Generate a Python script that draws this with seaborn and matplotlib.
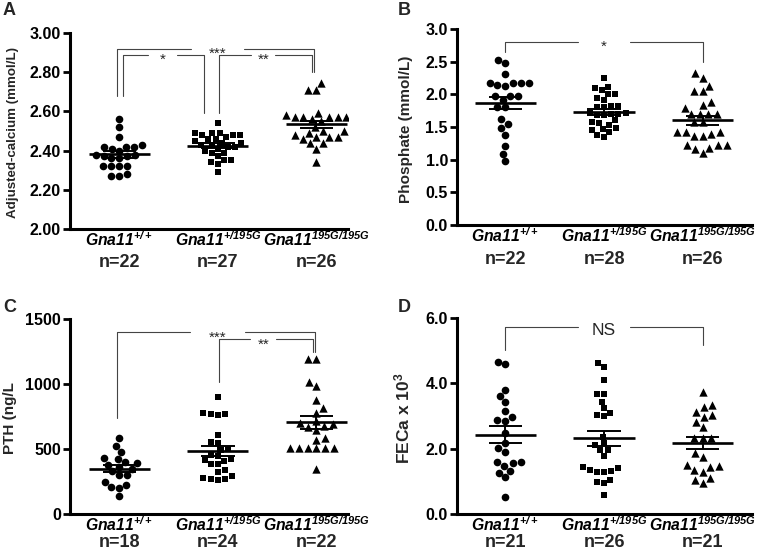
import numpy as np
import pandas as pd
import matplotlib
matplotlib.use("Agg")
import matplotlib.pyplot as plt
import seaborn as sns

# ---------------- data ----------------
groups = ["Gna11+/+", "Gna11+/195G", "Gna11195G/195G"]
group_labels = [r"$\mathsf{Gna11}^{\mathsf{+/+}}$",
                r"$\mathsf{Gna11}^{\mathsf{+/195G}}$",
                r"$\mathsf{Gna11}^{\mathsf{195G/195G}}$"]
markers = ["o", "s", "^"]

calcium_wt = [2.56, 2.52, 2.47, 2.43, 2.42, 2.42, 2.42, 2.41, 2.40, 2.38, 2.38,
              2.37, 2.37, 2.36, 2.36, 2.32, 2.32, 2.32, 2.32, 2.28, 2.27, 2.27]
calcium_het = [2.54, 2.49, 2.49, 2.49, 2.48, 2.48, 2.48, 2.47, 2.46, 2.46, 2.45,
               2.44, 2.44, 2.43, 2.43, 2.42, 2.42, 2.41, 2.40, 2.39, 2.39, 2.37,
               2.35, 2.35, 2.34, 2.33, 2.29]
calcium_hom = [2.745, 2.71, 2.71, 2.59, 2.58, 2.58, 2.57, 2.57, 2.57, 2.57, 2.57,
               2.56, 2.55, 2.52, 2.50, 2.50, 2.49, 2.48, 2.47, 2.47, 2.47, 2.46,
               2.44, 2.44, 2.41, 2.34]

phosphate_wt = [2.53, 2.48, 2.31, 2.17, 2.17, 2.13, 2.15, 2.17, 2.17, 1.97, 1.97,
                1.92, 1.97, 1.81, 1.81, 1.62, 1.55, 1.48, 1.38, 1.21, 1.09, 0.98]
phosphate_het = [2.25, 2.11, 2.09, 2.06, 2.00, 2.00, 1.95, 1.91, 1.82, 1.82, 1.81,
                 1.80, 1.72, 1.71, 1.70, 1.70, 1.69, 1.68, 1.60, 1.58, 1.56, 1.53,
                 1.48, 1.47, 1.45, 1.42, 1.38, 1.35]
phosphate_hom = [2.32, 2.25, 2.13, 2.05, 2.05, 1.88, 1.84, 1.79, 1.70, 1.70, 1.70,
                 1.70, 1.58, 1.58, 1.43, 1.42, 1.42, 1.40, 1.36, 1.36, 1.23, 1.22,
                 1.22, 1.18, 1.16, 1.10]

pth_wt = [582, 525, 479, 430, 425, 402, 390, 377, 364, 350, 330, 300, 300, 248,
          223, 210, 197, 138]
pth_het = [903, 775, 770, 768, 765, 605, 556, 544, 500, 495, 454, 446, 420, 415,
           410, 385, 385, 338, 325, 292, 277, 272, 270, 265]
pth_hom = [1195, 1195, 1018, 985, 877, 818, 779, 715, 697, 690, 677, 670, 646,
           582, 569, 505, 505, 505, 505, 505, 505, 343]

feca_wt = [4.66, 4.58, 3.80, 3.61, 3.44, 3.15, 2.98, 2.88, 2.85, 2.47, 2.16, 2.01,
           1.91, 1.60, 1.60, 1.55, 1.47, 1.33, 1.27, 1.14, 0.53]
feca_het = [4.61, 4.51, 4.10, 3.67, 3.67, 3.44, 3.24, 3.10, 3.03, 3.00, 2.37, 2.16,
            2.11, 1.96, 1.96, 1.78, 1.45, 1.40, 1.35, 1.33, 1.29, 1.29, 1.04, 0.99,
            0.94, 0.58]
feca_hom = [3.74, 3.34, 3.28, 3.13, 3.03, 2.98, 2.83, 2.65, 2.32, 2.32, 2.32, 1.88,
            1.75, 1.50, 1.47, 1.43, 1.35, 1.30, 1.09, 1.04, 0.94]

# brackets: (x_start, x_end, y, left_leg_bottom, right_leg_bottom, label, gap_center, gap_half)
brackets_a = [(-0.02, 1.98, 2.92, 2.68, 2.80, "***", 1.00, 0.27),
              (0.04, 0.86, 2.89, 2.68, 2.59, "*", 0.44, 0.15),
              (1.01, 1.95, 2.89, 2.59, 2.80, "**", 1.46, 0.12)]
brackets_b = [(0.0, 2.0, 2.80, 2.65, 2.50, "*", 1.00, 0.26)]
brackets_c = [(-0.02, 1.99, 1397, 738, 1248, "***", 1.00, 0.28),
              (1.01, 1.96, 1343, 1015, 1248, "**", 1.46, 0.13)]
brackets_d = [(0.0, 2.0, 5.73, 5.02, 5.17, "NS", 1.00, 0.26)]

# ---------------- style ----------------
sns.set_theme(style="ticks")
plt.rcParams["font.family"] = ["Liberation Sans", "DejaVu Sans"]
plt.rcParams["font.weight"] = "bold"
plt.rcParams["mathtext.fontset"] = "custom"
plt.rcParams["mathtext.it"] = "Liberation Sans:italic:bold"
plt.rcParams["mathtext.sf"] = "Liberation Sans:italic:bold"
plt.rcParams["mathtext.rm"] = "Liberation Sans:bold"
plt.rcParams["mathtext.bf"] = "Liberation Sans:bold"

W, H = 757, 553
fig = plt.figure(figsize=(W / 100, H / 100), dpi=100)

marker_sizes = {"o": 5.5, "s": 5.0, "^": 6.0}


def px_axes(l, t, r, b):
    return fig.add_axes([l / W, 1 - b / H, (r - l) / W, (b - t) / H])


def panel(ax, data, ylim, yticks, fmt, ylabel, ylab_size, xlim, brackets, nlab_off, ylab_x):
    df = pd.DataFrame({"group": np.repeat(groups, [len(d) for d in data]),
                       "value": np.concatenate(data)})
    for g, m in zip(groups, markers):
        sub = df[df["group"] == g]
        sns.swarmplot(data=sub, x="group", y="value", order=groups, marker=m,
                      color="black", size=marker_sizes[m], linewidth=0,
                      ax=ax, zorder=3)
    for i, d in enumerate(data):
        d = np.asarray(d, float)
        mu = d.mean()
        se = d.std(ddof=1) / np.sqrt(len(d))
        ax.hlines(mu, i - 0.31, i + 0.31, color="black", lw=1.9, zorder=5)
        ax.hlines([mu - se, mu + se], i - 0.17, i + 0.17, color="black", lw=1.4, zorder=5)
        ax.vlines(i, mu - se, mu + se, color="black", lw=1.4, zorder=5)
        ax.annotate(f"n={len(d)}", xy=(i, 0), xycoords=("data", "axes fraction"),
                    xytext=(0, nlab_off), textcoords="offset points",
                    ha="center", va="center", fontsize=13, fontweight="bold")
    for (x0, x1, y, yl0, yl1, lab, gc, gh) in brackets:
        kw = dict(color="#444444", lw=0.8, zorder=4)
        ax.plot([x0, x0, gc - gh], [yl0, y, y], **kw)
        ax.plot([gc + gh, x1, x1], [y, y, yl1], **kw)
        if lab == "NS":
            ax.annotate(lab, xy=(gc, y), xytext=(0, -3), textcoords="offset points",
                        ha="center", va="center", fontsize=12.5, fontweight="normal")
        else:
            ax.annotate(lab, xy=(gc, y), xytext=(0, -6.5), textcoords="offset points",
                        ha="center", va="baseline", fontsize=11, fontweight="normal")
    ax.set_ylim(*ylim)
    ax.set_xlim(*xlim)
    ax.set_yticks(yticks)
    ax.set_yticklabels([fmt.format(v) for v in yticks], fontsize=11.5, fontweight="bold")
    ax.set_xticks([0, 1, 2])
    ax.set_xticklabels(group_labels, fontsize=11.3)
    ax.set_xlabel("")
    ax.set_ylabel(ylabel, fontsize=ylab_size, fontweight="bold")
    ax.yaxis.set_label_coords(ylab_x, 0.49)
    for s in ("top", "right"):
        ax.spines[s].set_visible(False)
    for s in ("left", "bottom"):
        ax.spines[s].set_linewidth(2.2)
        ax.spines[s].set_color("black")
    ax.tick_params(axis="y", direction="out", length=5, width=2, pad=1.5, colors="black")
    ax.tick_params(axis="x", length=0, pad=1.0, colors="black")
    ax.set_facecolor("white")


axA = px_axes(70, 33, 348, 229)
panel(axA, [calcium_wt, calcium_het, calcium_hom], (2.0, 3.0),
      [2.0, 2.2, 2.4, 2.6, 2.8, 3.0], "{:.2f}", "Adjusted-calcium (mmol/L)", 9.6,
      (-0.5, 2.32), brackets_a, -24, -0.185)

axB = px_axes(457, 29, 752, 225)
panel(axB, [phosphate_wt, phosphate_het, phosphate_hom], (0.0, 3.0),
      [0.0, 0.5, 1.0, 1.5, 2.0, 2.5, 3.0], "{:.1f}", "Phosphate (mmol/L)", 11,
      (-0.49, 2.5), brackets_b, -25, -0.15)

axC = px_axes(70, 319, 348, 514)
panel(axC, [pth_wt, pth_het, pth_hom], (0, 1500), [0, 500, 1000, 1500], "{:d}",
      "PTH (ng/L", 11, (-0.5, 2.32), brackets_c, -20.5, -0.19)

axD = px_axes(457, 318, 752, 514)
panel(axD, [feca_wt, feca_het, feca_hom], (0.0, 6.0), [0.0, 2.0, 4.0, 6.0], "{:.1f}",
      r"FECa x 10$^{\mathregular{3}}$", 12.5, (-0.49, 2.5), brackets_d, -20.5, -0.15)

for lab, x, y in [("A", 3, 2), ("B", 398, 2), ("C", 3, 299), ("D", 398, 299)]:
    fig.text(x / W, 1 - y / H, lab, ha="left", va="top", fontsize=13, fontweight="bold")

fig.savefig("out.png", dpi=100, facecolor="white")
